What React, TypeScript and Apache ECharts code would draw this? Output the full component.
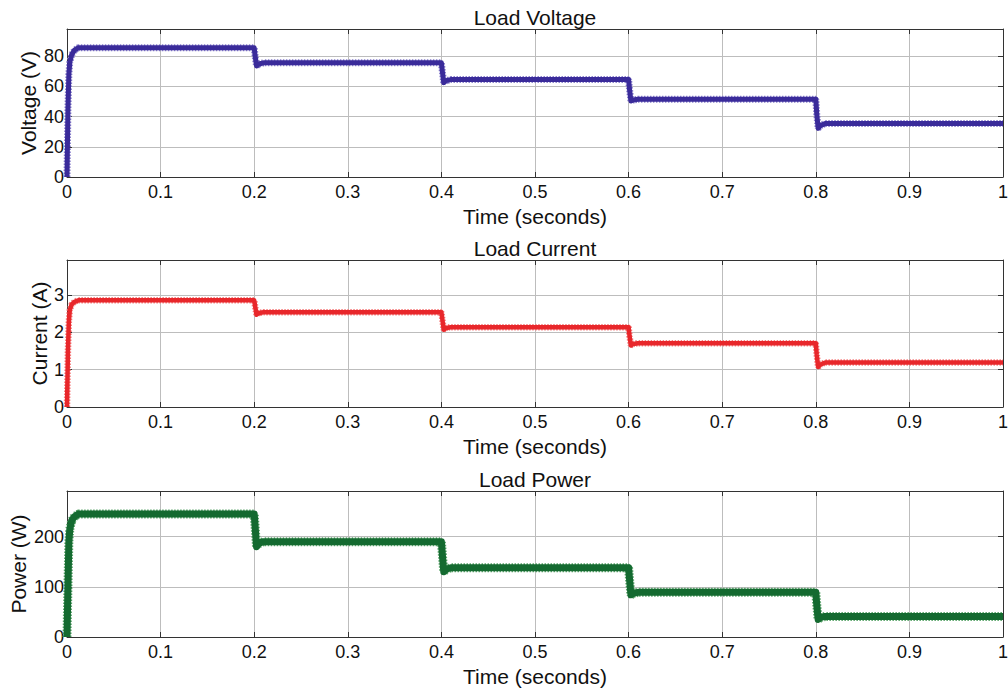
import React, { useEffect, useRef } from "react";
import * as echarts from "echarts";

// Time stamps (seconds) of the traced points
const timeSeconds = [
  0, 0.001, 0.002, 0.003, 0.005, 0.008, 0.012,
  0.2, 0.201, 0.2025, 0.205, 0.21,
  0.4, 0.401, 0.4025, 0.405, 0.41,
  0.6, 0.601, 0.6025, 0.605, 0.61,
  0.8, 0.801, 0.8025, 0.805, 0.81,
  1.0,
];

const loadVoltage = [
  0, 45, 68, 76, 81, 84, 85.6,
  85.6, 80, 73.5, 74.8, 75.6,
  75.6, 70, 62.5, 63.8, 64.5,
  64.5, 58, 50.3, 51, 51.5,
  51.5, 42, 32.2, 34, 35.5,
  35.5,
];

const loadCurrent = [
  0, 1.5, 2.3, 2.6, 2.75, 2.82, 2.86,
  2.86, 2.7, 2.47, 2.52, 2.54,
  2.54, 2.35, 2.07, 2.12, 2.14,
  2.14, 1.9, 1.65, 1.69, 1.71,
  1.71, 1.4, 1.07, 1.14, 1.19,
  1.19,
];

const loadPower = [
  0, 100, 190, 215, 232, 240, 245,
  245, 220, 180, 187, 190,
  190, 165, 130, 135, 138,
  138, 115, 84, 87, 89,
  89, 65, 35, 39, 41,
  41,
];

const panelTitles = ["Load Voltage", "Load Current", "Load Power"];
const yNames = ["Voltage (V)", "Current (A)", "Power (W)"];
const yMax = [98, 3.94, 291];
const yInterval = [20, 1, 100];
const xName = "Time (seconds)";

const FONT = "Liberation Sans, Arial, Helvetica, sans-serif";

export default function App() {
  const ref = useRef<HTMLDivElement>(null);

  useEffect(() => {
    document.body.style.margin = "0";
    if (!ref.current) return;
    const chart = echarts.init(ref.current, null, { renderer: "svg" });

    const grids = [
      { left: 67, top: 29, width: 936, height: 148, containLabel: false, outerBoundsMode: "none" },
      { left: 67, top: 260, width: 936, height: 147, containLabel: false, outerBoundsMode: "none" },
      { left: 67, top: 491, width: 936, height: 146, containLabel: false, outerBoundsMode: "none" },
    ];
    const seriesValues = [loadVoltage, loadCurrent, loadPower];
    const mainColors = ["#3a2b9a", "#e8272b", "#146a30"];
    const edgeColors = ["#8a80cc", "#f58080", "#5aa56a"];
    const widths = [7, 6.5, 9];
    const yNameGaps = [28, 17, 38];

    const axisLineStyle = { color: "#333", width: 1 };
    const xAxes: any[] = [];
    const yAxes: any[] = [];
    const series: any[] = [];
    const graphics: any[] = [];

    grids.forEach((g, i) => {
      xAxes.push({
        type: "value",
        gridIndex: i,
        min: 0,
        max: 1,
        interval: 0.1,
        position: "bottom",
        name: xName,
        nameLocation: "middle",
        nameGap: 29,
        nameMoveOverlap: false,
        nameTextStyle: { fontFamily: FONT, fontSize: 21, color: "#111" },
        axisLine: { show: true, onZero: false, lineStyle: axisLineStyle },
        axisTick: { show: true, inside: true, length: 5, lineStyle: axisLineStyle },
        axisLabel: {
          show: true,
          margin: 6,
          fontFamily: FONT,
          fontSize: 18,
          color: "#111",
          formatter: (v: number) => String(+v.toFixed(1)),
        },
        splitLine: { show: true, lineStyle: { color: "#bdbdbd", width: 1 } },
      });
      xAxes.push({
        type: "value",
        gridIndex: i,
        min: 0,
        max: 1,
        interval: 0.1,
        position: "top",
        axisLine: { show: true, onZero: false, lineStyle: axisLineStyle },
        axisTick: { show: true, inside: true, length: 5, lineStyle: axisLineStyle },
        axisLabel: { show: false },
        splitLine: { show: false },
      });
      yAxes.push({
        type: "value",
        gridIndex: i,
        min: 0,
        max: yMax[i],
        interval: yInterval[i],
        position: "left",
        name: yNames[i],
        nameLocation: "middle",
        nameGap: yNameGaps[i],
        nameMoveOverlap: false,
        nameTextStyle: { fontFamily: FONT, fontSize: 21, color: "#111" },
        axisLine: { show: true, onZero: false, lineStyle: axisLineStyle },
        axisTick: { show: true, inside: true, length: 5, lineStyle: axisLineStyle },
        axisLabel: {
          show: true,
          margin: 3,
          fontFamily: FONT,
          fontSize: 18,
          color: "#111",
          showMaxLabel: false,
        },
        splitLine: { show: true, lineStyle: { color: "#bdbdbd", width: 1 } },
      });
      yAxes.push({
        type: "value",
        gridIndex: i,
        min: 0,
        max: yMax[i],
        interval: yInterval[i],
        position: "right",
        axisLine: { show: true, onZero: false, lineStyle: axisLineStyle },
        axisTick: { show: true, inside: true, length: 5, lineStyle: axisLineStyle },
        axisLabel: { show: false },
        splitLine: { show: false },
      });

      const data = timeSeconds.map((t, k) => [t, seriesValues[i][k]]);
      series.push({
        type: "line",
        xAxisIndex: i * 2,
        yAxisIndex: i * 2,
        data,
        showSymbol: false,
        smooth: false,
        lineStyle: { color: edgeColors[i], width: widths[i], type: [1.5, 1.5] },
        z: 3,
      });
      series.push({
        type: "line",
        xAxisIndex: i * 2,
        yAxisIndex: i * 2,
        data,
        showSymbol: false,
        smooth: false,
        lineStyle: { color: mainColors[i], width: widths[i] - 2, join: "round" },
        z: 4,
      });

      graphics.push({
        type: "text",
        x: g.left + g.width / 2,
        y: g.top - 12,
        style: {
          text: panelTitles[i],
          font: `21px ${FONT}`,
          fill: "#111",
          align: "center",
          verticalAlign: "middle",
        },
      });
    });

    chart.setOption({
      animation: false,
      backgroundColor: "#ffffff",
      grid: grids,
      xAxis: xAxes,
      yAxis: yAxes,
      series,
      graphic: graphics,
    });

    return () => chart.dispose();
  }, []);

  return <div ref={ref} style={{ width: 1008, height: 691 }} />;
}
